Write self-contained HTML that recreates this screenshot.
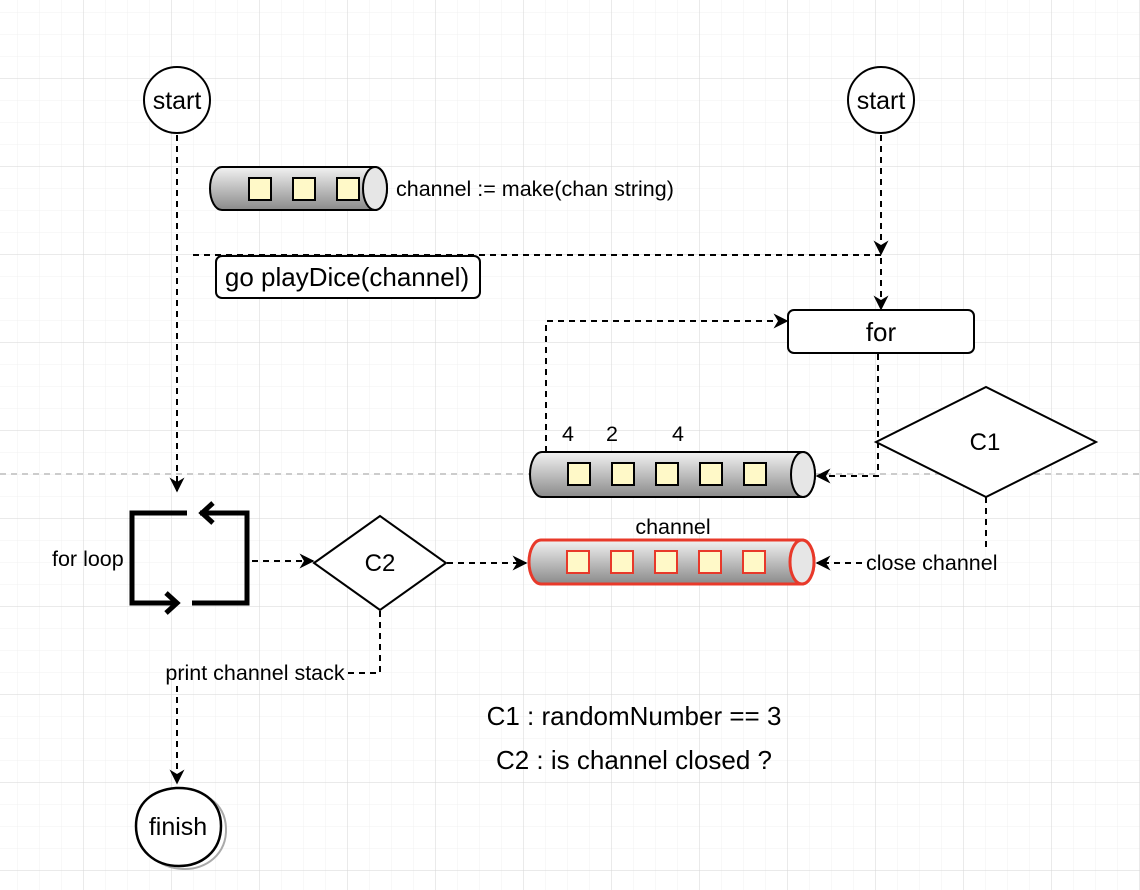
<!DOCTYPE html>
<html><head><meta charset="utf-8"><style>
html,body{margin:0;padding:0;background:#fff}
svg{display:block;font-family:"Liberation Sans",Arial,sans-serif}
</style></head><body>
<svg width="1140" height="890" viewBox="0 0 1140 890" xmlns="http://www.w3.org/2000/svg">
<defs>
<pattern id="minor" x="17" y="12" width="22" height="22" patternUnits="userSpaceOnUse">
<path d="M0 0H22M0 0V22" stroke="#f0f0f0" stroke-width="1" fill="none"/>
</pattern>
<pattern id="major" x="83" y="78" width="88" height="88" patternUnits="userSpaceOnUse">
<path d="M0 0H88M0 0V88" stroke="#d6d6d6" stroke-width="1" fill="none"/>
</pattern>
<linearGradient id="cg" x1="0" y1="0" x2="0" y2="1">
<stop offset="0" stop-color="#f2f2f2"/><stop offset="1" stop-color="#8a8a8a"/>
</linearGradient>
<marker id="ar" viewBox="0 0 10 10" refX="9" refY="5" markerWidth="15" markerHeight="15" markerUnits="userSpaceOnUse" orient="auto">
<path d="M0 0L10 5L0 10L3 5Z" fill="#000"/>
</marker>
</defs>
<rect width="1140" height="890" fill="url(#minor)"/>
<rect width="1140" height="890" fill="url(#major)"/>
<line x1="0" y1="474" x2="1140" y2="474" stroke="#bbb" stroke-width="1.5" stroke-dasharray="6 5"/>

<g fill="none" stroke="#000" stroke-width="2" stroke-dasharray="6 5">
<path d="M177 135V491" marker-end="url(#ar)"/>
<path d="M193 255H881"/>
<path d="M881 135V254" marker-end="url(#ar)"/>
<path d="M881 258V309" marker-end="url(#ar)"/>
<path d="M878 354V476H817" marker-end="url(#ar)"/>
<path d="M546 452V321H787" marker-end="url(#ar)"/>
<path d="M986 497V548"/>
<path d="M862 563H817" marker-end="url(#ar)"/>
<path d="M252 561H313" marker-end="url(#ar)"/>
<path d="M447 563H526" marker-end="url(#ar)"/>
<path d="M380 611V673H348"/>
<path d="M177 686V783" marker-end="url(#ar)"/>
</g>

<circle cx="177" cy="100" r="33" fill="#fff" stroke="#000" stroke-width="2"/>
<text x="177" y="109" font-size="25" text-anchor="middle">start</text>
<circle cx="881" cy="100" r="33" fill="#fff" stroke="#000" stroke-width="2"/>
<text x="881" y="109" font-size="25" text-anchor="middle">start</text>

<path d="M222 167H375A12 21.5 0 0 1 375 210H222A12 21.5 0 0 1 222 167Z" fill="url(#cg)" stroke="#000" stroke-width="2"/>
<ellipse cx="375" cy="188.5" rx="12" ry="21.5" fill="#e6e6e6" stroke="#000" stroke-width="2"/>
<g fill="#fff9c8" stroke="#000" stroke-width="2">
<rect x="249" y="178" width="22" height="22"/><rect x="293" y="178" width="22" height="22"/><rect x="337" y="178" width="22" height="22"/>
</g>
<text x="396" y="196" font-size="21.5">channel := make(chan string)</text>

<rect x="216" y="256" width="264" height="42" rx="6" fill="#fff" stroke="#000" stroke-width="2"/>
<text x="347" y="286" font-size="26" text-anchor="middle">go playDice(channel)</text>

<rect x="788" y="310" width="186" height="43" rx="6" fill="#fff" stroke="#000" stroke-width="2"/>
<text x="881" y="341" font-size="26" text-anchor="middle">for</text>

<path d="M542 452H803A12 22.5 0 0 1 803 497H542A12 22.5 0 0 1 542 452Z" fill="url(#cg)" stroke="#000" stroke-width="2"/>
<ellipse cx="803" cy="474.5" rx="12" ry="22.5" fill="#e6e6e6" stroke="#000" stroke-width="2"/>
<g fill="#fff9c8" stroke="#000" stroke-width="2">
<rect x="568" y="463" width="22" height="22"/><rect x="612" y="463" width="22" height="22"/><rect x="656" y="463" width="22" height="22"/><rect x="700" y="463" width="22" height="22"/><rect x="744" y="463" width="22" height="22"/>
</g>
<text x="568" y="441" font-size="21.5" text-anchor="middle">4</text>
<text x="612" y="441" font-size="21.5" text-anchor="middle">2</text>
<text x="678" y="441" font-size="21.5" text-anchor="middle">4</text>

<path d="M876 442L986 387L1096 442L986 497Z" fill="#fff" stroke="#000" stroke-width="2"/>
<text x="985" y="450" font-size="24" text-anchor="middle">C1</text>

<text x="673" y="534" font-size="21.5" text-anchor="middle">channel</text>
<path d="M541 540H802A12 22 0 0 1 802 584H541A12 22 0 0 1 541 540Z" fill="url(#cg)" stroke="#e8392a" stroke-width="3"/>
<ellipse cx="802" cy="562" rx="12" ry="22" fill="#e6e6e6" stroke="#e8392a" stroke-width="3"/>
<g fill="#fff9c8" stroke="#e8392a" stroke-width="2">
<rect x="567" y="551" width="22" height="22"/><rect x="611" y="551" width="22" height="22"/><rect x="655" y="551" width="22" height="22"/><rect x="699" y="551" width="22" height="22"/><rect x="743" y="551" width="22" height="22"/>
</g>
<text x="866" y="570" font-size="21.5">close channel</text>

<g fill="none" stroke="#000" stroke-width="5">
<path d="M187 513H132V603H178"/>
<path d="M200 513H247V603H192"/>
<path d="M213 503L202 513L213 523"/>
<path d="M166 593L177 603L166 613"/>
</g>
<text x="52" y="566" font-size="21.5">for loop</text>

<path d="M314 563L380 516L446 563L380 610Z" fill="#fff" stroke="#000" stroke-width="2"/>
<text x="380" y="571" font-size="24" text-anchor="middle">C2</text>
<text x="255" y="680" font-size="21.5" text-anchor="middle">print channel stack</text>

<path d="M176 789C200 788 222 800 223 826C224 852 203 868 180 867C156 866 138 850 137 828C136 804 152 790 176 789Z" fill="#fff" stroke="#aaa" stroke-width="2" transform="translate(3,2)"/>
<path d="M176 788C200 787 221 800 221 826C221 852 201 866 179 866C155 866 136 850 136 826C136 803 152 790 176 788Z" fill="#fff" stroke="#000" stroke-width="2.5"/>
<text x="178" y="835" font-size="25" text-anchor="middle">finish</text>

<text x="634" y="725" font-size="26" text-anchor="middle">C1 : randomNumber == 3</text>
<text x="634" y="769" font-size="26" text-anchor="middle">C2 : is channel closed ?</text>
</svg>
</body></html>
